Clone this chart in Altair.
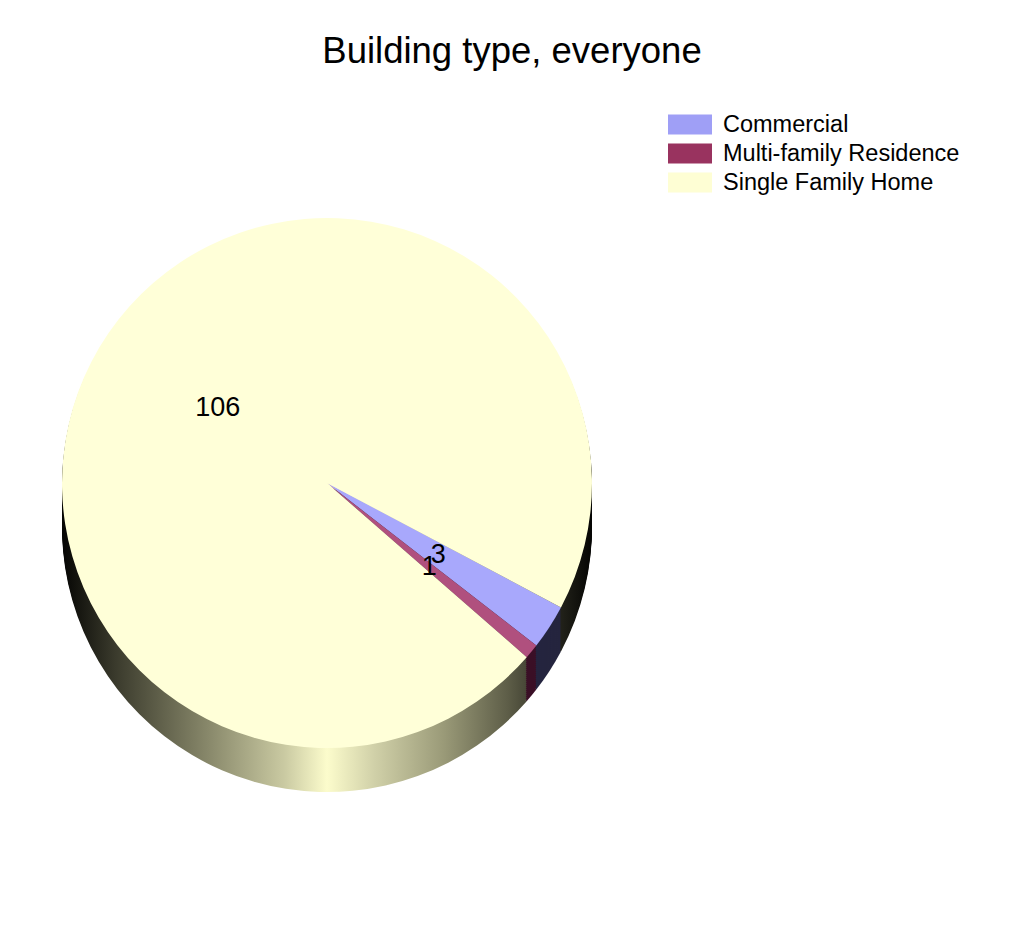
import math
import altair as alt
import pandas as pd

categories = ["Commercial", "Multi-family Residence", "Single Family Home"]
counts = [3, 1, 106]
labels = ["3", "1", "106"]

legend_colors = ["#9f9ff6", "#99335f", "#fefed4"]
top_colors = ["#a8a8fc", "#b0507e", "#ffffd8"]
side_commercial = "#25253f"
side_multi = "#3b1027"

df = pd.DataFrame({"category": categories, "count": counts, "label": labels})

PAD_TOP = 72
CX, CY = 319, 483 - 8 - PAD_TOP
R = 265
DEPTH = 44
start = math.radians(118)

theta_enc = alt.Theta("count:Q", stack=True,
                      scale=alt.Scale(range=[start, start + 2 * math.pi], zero=True, nice=False))
order_enc = alt.Order("category:N")

gradient = {
    "gradient": "linear", "x1": 0, "x2": 1, "y1": 0, "y2": 0,
    "stops": [
        {"offset": 0.0, "color": "#050503"},
        {"offset": 0.10, "color": "#3a3a2c"},
        {"offset": 0.28, "color": "#8a8a6c"},
        {"offset": 0.42, "color": "#cacaa2"},
        {"offset": 0.50, "color": "#fcfccc"},
        {"offset": 0.59, "color": "#d0d0a8"},
        {"offset": 0.72, "color": "#9a9a78"},
        {"offset": 0.84, "color": "#5e5e48"},
        {"offset": 0.92, "color": "#2c2c22"},
        {"offset": 1.0, "color": "#050503"},
    ],
}

side_fill = {
    "condition": [
        {"test": "datum.category === 'Commercial'", "value": side_commercial},
        {"test": "datum.category === 'Multi-family Residence'", "value": side_multi},
    ],
    "value": gradient,
}

base = alt.Chart(df)

legend_layer = base.mark_arc(radius=R - 10).encode(
    theta=theta_enc,
    order=order_enc,
    x=alt.value(CX), y=alt.value(CY),
    color=alt.Color("category:N",
                    scale=alt.Scale(domain=categories, range=legend_colors),
                    legend=alt.Legend(
                        title=None, orient="none", legendX=660, legendY=112 - 8 - PAD_TOP,
                        symbolType="M-1,-0.45L1,-0.45L1,0.45L-1,0.45Z",
                        symbolSize=1936, symbolStrokeWidth=0, symbolOpacity=1,
                        labelFontSize=23.5, labelFont="Liberation Sans", labelColor="#000000",
                        labelLimit=500, labelOffset=11, rowPadding=4, clipHeight=25,
                    )),
)

side_layers = []
for d in range(DEPTH, 0, -2):
    side_layers.append(
        base.mark_arc(radius=R).encode(
            theta=theta_enc, order=order_enc,
            x=alt.value(CX), y=alt.value(CY + d),
            fill=side_fill,
        )
    )

top_layer = base.mark_arc(radius=R).encode(
    theta=theta_enc, order=order_enc,
    x=alt.value(CX), y=alt.value(CY),
    color=alt.Color("category:N",
                    scale=alt.Scale(domain=categories, range=top_colors),
                    legend=None),
)

text_layer = base.mark_text(radius=R * 0.5, fontSize=27, font="Liberation Sans",
                            color="#000000", align="center", baseline="middle").encode(
    theta=theta_enc, order=order_enc, detail="category:N",
    x=alt.value(CX), y=alt.value(CY),
    text="label:N",
)

chart = alt.layer(legend_layer, *side_layers, top_layer, text_layer).resolve_scale(
    color="independent"
).properties(
    width=1008, height=921 - PAD_TOP,
    padding={"left": 0, "top": PAD_TOP, "right": 0, "bottom": 0},
    autosize=alt.AutoSizeParams(type="none"),
    title=alt.TitleParams("Building type, everyone", fontSize=36.5, font="Liberation Sans",
                          fontWeight="normal", color="#000000", anchor="middle", offset=10),
).configure_view(stroke=None)

chart.save("out.html", embed_options={"renderer": "svg", "actions": False})
